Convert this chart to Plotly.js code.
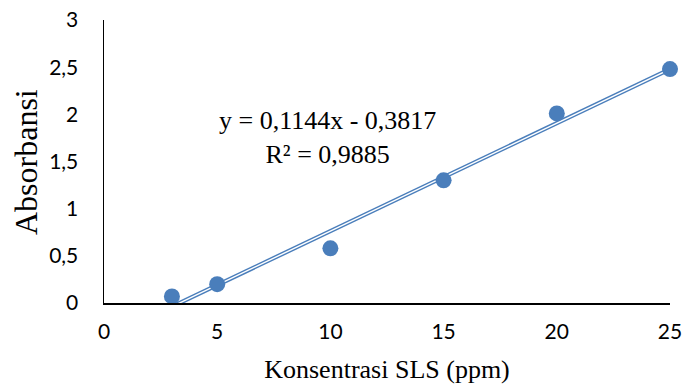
<!DOCTYPE html>
<html>
<head>
<meta charset="utf-8">
<script src="https://cdn.plot.ly/plotly-3.0.1.min.js"></script>
<style>html,body{margin:0;padding:0;background:#fff;}#chart{width:683px;height:388px;}</style>
</head>
<body>
<div id="chart"></div>
<script>
const concentration = [3, 5, 10, 15, 20, 25];
const absorbance = [0.07, 0.20, 0.58, 1.30, 2.01, 2.48];
const slope = 0.1144;
const intercept = -0.3817;
const rSquared = 0.9885;
const xTicks = [0, 5, 10, 15, 20, 25];
const yTicks = [0, 0.5, 1, 1.5, 2, 2.5, 3];
const yTickLabels = ['0', '0,5', '1', '1,5', '2', '2,5', '3'];
const xTitle = 'Konsentrasi SLS (ppm)';
const yTitle = 'Absorbansi';

const fmt = v => v.toFixed(4).replace('.', ',');
const trendX = [Math.min(...concentration), Math.max(...concentration)];
const trendY = trendX.map(x => slope * x + intercept);

const blue = '#4A7EBB';
const data = [
  {x: trendX, y: trendY, mode: 'lines', line: {color: blue, width: 4.2}, hoverinfo: 'skip', showlegend: false},
  {x: trendX, y: trendY, mode: 'lines', line: {color: '#ffffff', width: 1.4}, hoverinfo: 'skip', showlegend: false},
  {x: concentration, y: absorbance, mode: 'markers', marker: {color: blue, size: 16}, cliponaxis: false, showlegend: false}
];

const tickFont = {family: 'Lato, "Open Sans", sans-serif', size: 21, color: '#000'};
const serif = '"Liberation Serif", "Times New Roman", serif';
const layout = {
  width: 683, height: 388,
  margin: {l: 104, r: 13, t: 20, b: 85},
  paper_bgcolor: '#fff', plot_bgcolor: '#fff',
  showlegend: false,
  xaxis: {
    range: [0, 25], tickvals: xTicks, ticktext: xTicks.map(String),
    showgrid: false, zeroline: false, showline: true, linecolor: '#000', linewidth: 1.5,
    ticks: '', ticklabelstandoff: 9,
    tickfont: tickFont,
    title: {text: xTitle, font: {family: serif, size: 26, color: '#000'}, standoff: 18}
  },
  yaxis: {
    range: [0, 3], tickvals: yTicks, ticktext: yTickLabels,
    showgrid: false, zeroline: false, showline: true, linecolor: '#000', linewidth: 1.5,
    ticks: '', ticklabelstandoff: 20,
    tickfont: tickFont
  },
  annotations: [{
    xref: 'paper', yref: 'paper',
    x: (327 - 104) / 566, y: (303 - 137) / 283,
    text: 'y = ' + fmt(slope) + 'x - ' + fmt(Math.abs(intercept)) + '<br>R² = ' + fmt(rSquared),
    showarrow: false, align: 'center',
    font: {family: serif, size: 26, color: '#000'}
  }, {
    xref: 'paper', yref: 'paper',
    x: (26 - 104) / 566, y: (303 - 162) / 283,
    xanchor: 'center', yanchor: 'middle',
    text: yTitle, textangle: -90, showarrow: false,
    font: {family: serif, size: 32, color: '#000'}
  }]
};

Plotly.newPlot('chart', data, layout, {displayModeBar: false, staticPlot: true});
</script>
</body>
</html>
